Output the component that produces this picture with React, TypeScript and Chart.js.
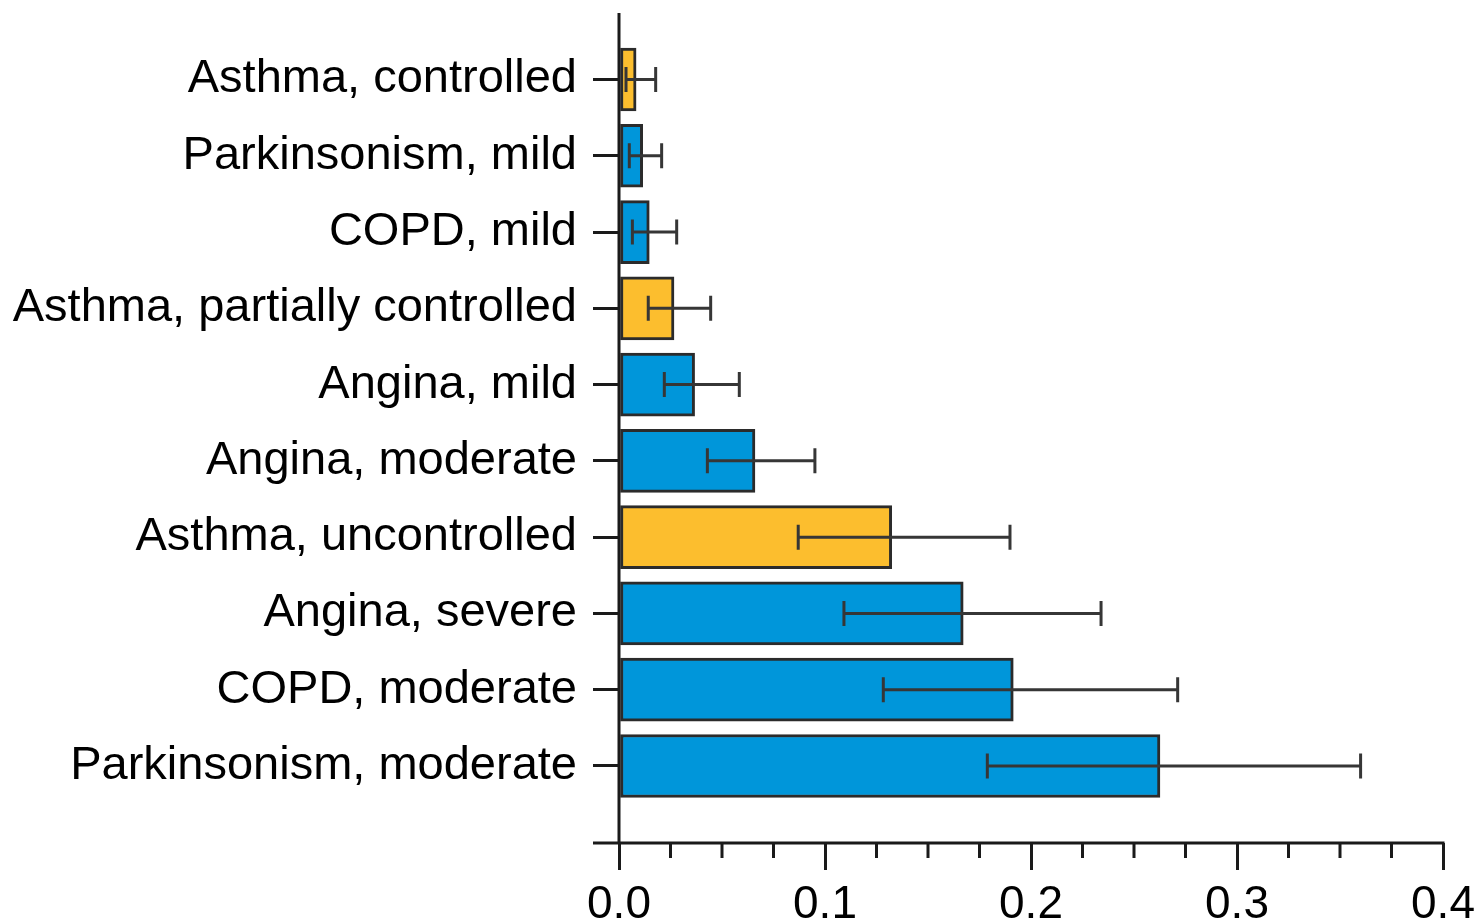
import React, { useEffect, useRef } from "react";
import { Chart, registerables } from "chart.js";

Chart.register(...registerables);

// Conditions, listed top to bottom
const categories = [
  "Asthma, controlled",
  "Parkinsonism, mild",
  "COPD, mild",
  "Asthma, partially controlled",
  "Angina, mild",
  "Angina, moderate",
  "Asthma, uncontrolled",
  "Angina, severe",
  "COPD, moderate",
  "Parkinsonism, moderate",
];

// Point estimates and interval bounds
const estimates = [0.0083, 0.0115, 0.0147, 0.0267, 0.0367, 0.066, 0.1324, 0.1671, 0.1914, 0.2626];
const lowerBounds = [0.0034, 0.005, 0.0065, 0.0142, 0.022, 0.0429, 0.087, 0.1092, 0.1283, 0.1788];
const upperBounds = [0.0178, 0.0207, 0.028, 0.0445, 0.0584, 0.0951, 0.1898, 0.234, 0.2712, 0.36];

// Condition family for each row (asthma rows are highlighted)
const families = ["asthma", "other", "other", "asthma", "other", "other", "asthma", "other", "other", "other"];

const xMajorTicks = [0, 0.1, 0.2, 0.3, 0.4];
const xMinorStep = 0.025;

const YELLOW = "#FCBE2E";
const BLUE = "#0096DA";
const INK = "#1a1a1a";
const FONT = "'Liberation Sans', Arial, sans-serif";

const axisPlugin = {
  id: "axesAndIntervals",
  afterDatasetsDraw(chart: any) {
    const { ctx, chartArea, scales } = chart;
    const xs = scales.x;
    const ys = scales.y;
    ctx.save();

    // interval whiskers
    ctx.strokeStyle = "#363636";
    ctx.lineWidth = 3;
    const cap = 12.5;
    categories.forEach((_, i) => {
      const y = ys.getPixelForValue(i);
      const x0 = xs.getPixelForValue(lowerBounds[i]);
      const x1 = xs.getPixelForValue(upperBounds[i]);
      ctx.beginPath();
      ctx.moveTo(x0, y);
      ctx.lineTo(x1, y);
      ctx.moveTo(x0, y - cap);
      ctx.lineTo(x0, y + cap);
      ctx.moveTo(x1, y - cap);
      ctx.lineTo(x1, y + cap);
      ctx.stroke();
    });

    // axis lines
    ctx.strokeStyle = INK;
    ctx.lineWidth = 3;
    ctx.beginPath();
    ctx.moveTo(chartArea.left, chartArea.top);
    ctx.lineTo(chartArea.left, chartArea.bottom);
    ctx.moveTo(chartArea.left - 26, chartArea.bottom);
    ctx.lineTo(chartArea.right + 1.5, chartArea.bottom);
    ctx.stroke();

    // minor ticks on the value axis
    ctx.beginPath();
    const n = Math.round((xs.max - xs.min) / xMinorStep);
    for (let k = 0; k <= n; k++) {
      if (k % 4 === 0) continue;
      const px = xs.getPixelForValue(xs.min + k * xMinorStep);
      ctx.moveTo(px, chartArea.bottom);
      ctx.lineTo(px, chartArea.bottom + 15);
    }
    ctx.stroke();
    ctx.restore();
  },
};

export default function App() {
  const ref = useRef<HTMLCanvasElement | null>(null);

  useEffect(() => {
    if (!ref.current) return;
    const chart = new Chart(ref.current, {
      type: "bar",
      data: {
        datasets: [
          {
            data: estimates.map((v, i) => ({ x: v, y: i })),
            backgroundColor: families.map((f) => (f === "asthma" ? YELLOW : BLUE)),
            borderColor: "#2b2b2b",
            borderWidth: 3,
            borderSkipped: false,
            barThickness: 63,
          },
        ],
      },
      plugins: [axisPlugin],
      options: {
        indexAxis: "y",
        animation: false,
        responsive: false,
        layout: { padding: { top: 13, right: 36, left: 0, bottom: 0 } },
        plugins: { legend: { display: false }, tooltip: { enabled: false } },
        scales: {
          x: {
            type: "linear",
            min: 0,
            max: 0.4,
            afterBuildTicks(scale: any) {
              scale.ticks = xMajorTicks.map((v) => ({ value: v }));
            },
            afterFit(scale: any) {
              scale.height = 80;
              scale.paddingLeft = 0;
              scale.paddingRight = 0;
            },
            ticks: {
              callback: (v: any) => Number(v).toFixed(1),
              font: { family: FONT, size: 46 },
              color: "#000",
              padding: 8,
              maxRotation: 0,
              autoSkip: false,
            },
            grid: {
              drawOnChartArea: false,
              tickLength: 27,
              lineWidth: 3,
              color: INK,
            },
            border: { display: false },
          },
          y: {
            type: "linear",
            reverse: true,
            offset: false,
            min: -0.872,
            max: 10.01,
            afterBuildTicks(scale: any) {
              scale.ticks = categories.map((_, i) => ({ value: i }));
            },
            afterFit(scale: any) {
              scale.width = 619;
              scale.paddingTop = 0;
              scale.paddingBottom = 0;
            },
            ticks: {
              callback: (v: any) => categories[Number(v)],
              font: { family: FONT, size: 47 },
              color: "#000",
              padding: 16,
              autoSkip: false,
            },
            grid: {
              offset: false,
              drawOnChartArea: false,
              tickLength: 26,
              lineWidth: 3,
              color: INK,
            },
            border: { display: false },
          },
        },
      },
    });
    return () => chart.destroy();
  }, []);

  return (
    <div style={{ position: "absolute", left: 0, top: 0, width: 1479, height: 923, background: "#fff" }}>
      <canvas ref={ref} width={1479} height={923} />
    </div>
  );
}
